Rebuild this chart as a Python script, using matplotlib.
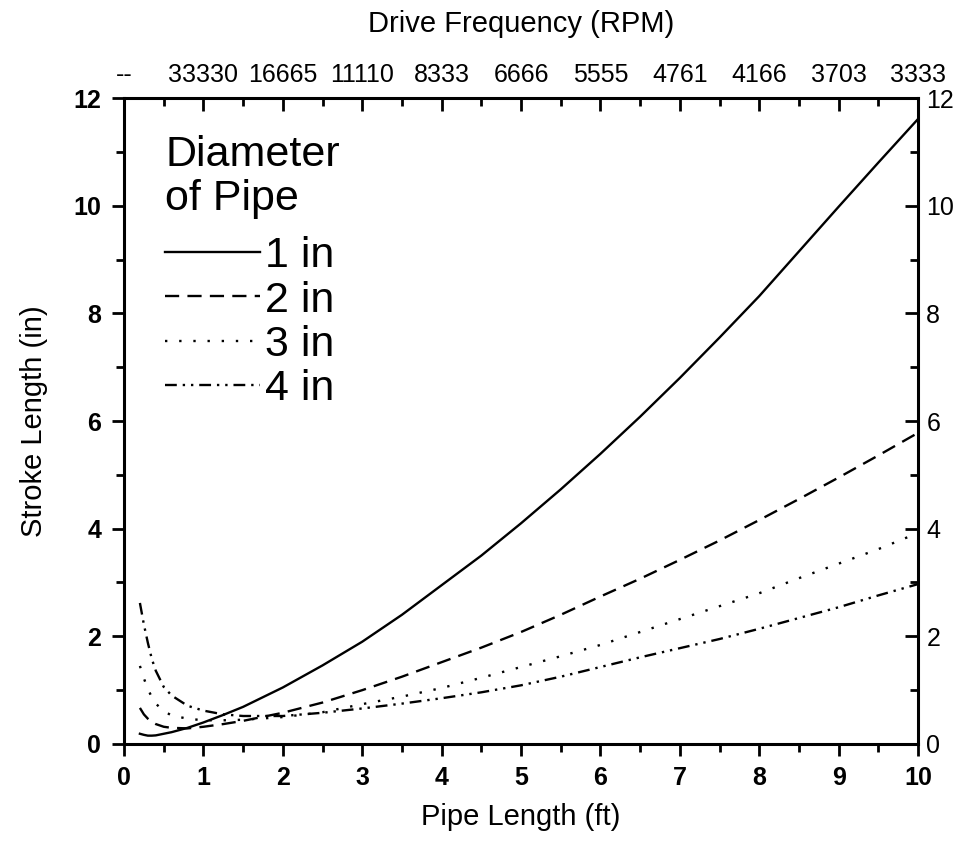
import numpy as np
import matplotlib.pyplot as plt

plt.rcParams['font.family'] = ['Liberation Sans', 'DejaVu Sans']

# pipe length (ft) and the stroke length (in) read for each pipe diameter
pipe_len = [0.2, 0.25, 0.3, 0.35, 0.4, 0.5, 0.6, 0.8, 1.0, 1.25, 1.5, 2.0, 2.5, 3.0, 3.5,
            4.0, 4.5, 5.0, 5.5, 6.0, 6.5, 7.0, 7.5, 8.0, 8.5, 9.0, 9.5, 10.0]
stroke_1in = [0.19, 0.17, 0.155, 0.155, 0.16, 0.19, 0.22, 0.30, 0.40, 0.54, 0.69, 1.05, 1.46, 1.90, 2.40,
              2.95, 3.50, 4.10, 4.73, 5.39, 6.08, 6.80, 7.55, 8.32, 9.15, 9.98, 10.80, 11.61]
stroke_2in = [0.67, 0.55, 0.47, 0.41, 0.37, 0.32, 0.30, 0.29, 0.32, 0.37, 0.43, 0.58, 0.77, 1.00, 1.25,
              1.52, 1.79, 2.08, 2.40, 2.74, 3.07, 3.42, 3.78, 4.16, 4.55, 4.95, 5.36, 5.78]
stroke_3in = [1.45, 1.22, 1.02, 0.87, 0.75, 0.61, 0.53, 0.47, 0.44, 0.44, 0.45, 0.50, 0.59, 0.74, 0.88,
              1.04, 1.23, 1.43, 1.63, 1.84, 2.08, 2.32, 2.56, 2.80, 3.08, 3.35, 3.62, 3.92]
stroke_4in = [2.62, 2.22, 1.88, 1.58, 1.36, 1.06, 0.90, 0.71, 0.62, 0.55, 0.52, 0.52, 0.58, 0.66, 0.75,
              0.85, 0.96, 1.09, 1.25, 1.43, 1.61, 1.78, 1.95, 2.14, 2.34, 2.54, 2.76, 2.97]
diam_labels = ['1 in', '2 in', '3 in', '4 in']

# top axis: drive frequency at each pipe length tick
rpm_ticks = [0, 1, 2, 3, 4, 5, 6, 7, 8, 9, 10]
rpm_labels = ['--', '33330', '16665', '11110', '8333', '6666', '5555', '4761', '4166', '3703', '3333']

fig = plt.figure(figsize=(9.63, 8.42), dpi=100)
ax = fig.add_axes([0.1288, 0.1164, 0.8245, 0.7672])

styles = ['-', (0, (6, 3.5)), (0, (1, 5)), (0, (5, 2.5, 1, 2.5, 1, 2.5))]
series = [stroke_1in, stroke_2in, stroke_3in, stroke_4in]
for y, ls, lab in zip(series, styles, diam_labels):
    ax.plot(pipe_len, y, color='black', lw=1.7, linestyle=ls, label=lab)

ax.set_xlim(0, 10)
ax.set_ylim(0, 12)
ax.set_xticks(range(0, 11))
ax.set_xticks(np.arange(0.5, 10, 1), minor=True)
ax.set_yticks(range(0, 13, 2))
ax.set_yticks(range(1, 12, 2), minor=True)
ax.tick_params(which='both', direction='out', width=2, top=False, right=False,
               labelsize=18)
ax.tick_params(which='major', length=8.5)
ax.tick_params(which='minor', length=5.5)
ax.tick_params(axis='y', pad=8)
ax.tick_params(axis='x', pad=7)
for t in ax.get_xticklabels() + ax.get_yticklabels():
    t.set_fontweight('bold')
for s in ax.spines.values():
    s.set_linewidth(2.2)

ax.set_xlabel('Pipe Length (ft)', fontsize=21, labelpad=10)
ax.set_ylabel('Stroke Length (in)', fontsize=21, labelpad=18)

# right axis, same scale, ticks inward
axr = ax.twinx()
axr.set_ylim(0, 12)
axr.set_yticks(range(0, 13, 2))
axr.set_yticks(range(1, 12, 2), minor=True)
axr.tick_params(which='both', direction='in', width=2, labelsize=18, pad=6)
axr.tick_params(which='major', length=9.5)
axr.tick_params(which='minor', length=6)

# top axis with RPM labels
axt = ax.twiny()
axt.set_xlim(0, 10)
axt.set_xticks(rpm_ticks)
axt.set_xticklabels(rpm_labels)
axt.set_xticks(np.arange(0.5, 10, 1), minor=True)
axt.tick_params(which='both', direction='in', width=2, labelsize=18, pad=8)
axt.tick_params(which='major', length=9.5)
axt.tick_params(which='minor', length=6)
axt.set_xlabel('Drive Frequency (RPM)', fontsize=21, labelpad=22)

# legend title drawn as plain text, entries below it
ax.text(0.0516, 0.942, 'Diameter\nof Pipe', transform=ax.transAxes, fontsize=31,
        ha='left', va='top', linespacing=1.12)
ax.legend(loc='upper left', bbox_to_anchor=(0.0516, 0.786),
          frameon=False, fontsize=31, handlelength=2.2,
          handletextpad=0.12, labelspacing=0.1, borderpad=0, borderaxespad=0)

fig.savefig('out.png', dpi=100)
